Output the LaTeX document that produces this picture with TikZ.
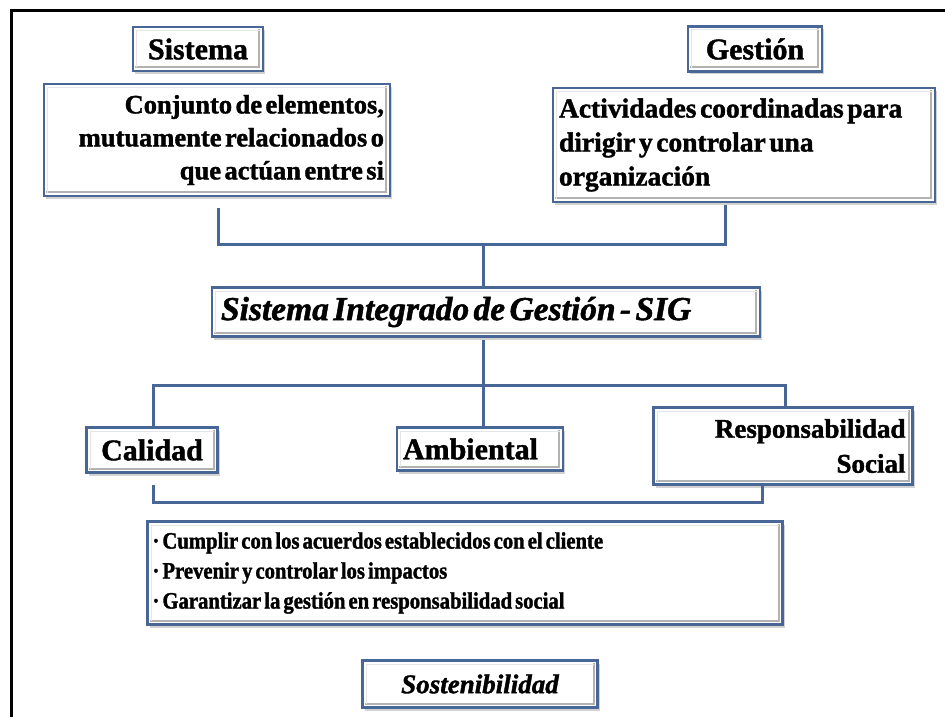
\documentclass[tikz,border=0pt]{standalone}
\usepackage{fontspec}
\setmainfont{Liberation Serif}[FakeBold=1.4]
\newfontfamily\bulfont{Liberation Serif}[FakeBold=1.4, FakeStretch=0.88]
\newcommand\tightsp{\spaceskip=0.13em\xspaceskip=0.13em\relax}
\usetikzlibrary{shadows}
\definecolor{bord}{RGB}{72,102,150}
\tikzset{
  bevel/.style={path picture={
    \draw[gray!60, line width=2pt] ([xshift=-4pt,yshift=-2pt]path picture bounding box.north east) -- ([xshift=-4pt,yshift=4pt]path picture bounding box.south east) -- ([xshift=2pt,yshift=4pt]path picture bounding box.south west);
    \draw[gray!20, line width=1pt] ([xshift=3.5pt,yshift=3.5pt]path picture bounding box.south west) -- ([xshift=3.5pt,yshift=-3.5pt]path picture bounding box.north west) -- ([xshift=-3.5pt,yshift=-3.5pt]path picture bounding box.north east);
  }},
  bx/.style={draw=bord, line width=2.5pt, fill=white, bevel,
    drop shadow={shadow xshift=2pt, shadow yshift=-3pt, fill=gray!70, opacity=0.5},
    inner sep=0pt, outer sep=0pt},
  conn/.style={draw=bord, line width=3pt},
}
\begin{document}
\begin{tikzpicture}[x=1pt,y=-1pt]
\useasboundingbox (0,0) rectangle (945,717);
\draw[line width=3pt] (11,717) -- (11,11) -- (945,11);

\node[bx, minimum width=130pt, minimum height=44pt, font=\fontsize{30}{34}\selectfont\bfseries] (sis) at (198,49) {Sistema};
\node[bx, minimum width=134pt, minimum height=45pt, font=\fontsize{30}{34}\selectfont\bfseries] (ges) at (755,49) {Gestión};
\node[bx, text width=334pt, minimum height=112pt, inner xsep=6pt, align=right, font=\fontsize{26.5}{33}\selectfont\bfseries] (conj) at (217,140) {\tightsp Conjunto de elementos,\\ mutuamente relacionados o\\ que actúan entre si};
\node[bx, text width=370pt, minimum height=114pt, inner xsep=6pt, align=left, font=\fontsize{27.5}{34}\selectfont\bfseries] (act) at (744,145) {\tightsp Actividades coordinadas para\\ dirigir y controlar una\\ organización};

\node[bx, text width=530pt, minimum height=49pt, inner xsep=9pt, align=left, font=\fontsize{33.5}{34}\selectfont\bfseries\itshape] (sig) at (486,312) {\tightsp Sistema Integrado de Gestión - SIG};

\node[bx, minimum width=131pt, minimum height=45pt, font=\fontsize{30}{34}\selectfont\bfseries] (cal) at (152,450) {Calidad};
\node[bx, text width=154pt, minimum height=43pt, inner xsep=6pt, align=left, font=\fontsize{30}{34}\selectfont\bfseries] (amb) at (480,449) {Ambiental};
\node[bx, text width=245pt, minimum height=77pt, inner xsep=7pt, align=right, font=\fontsize{27}{35}\selectfont\bfseries] (resp) at (783,446) {Responsabilidad\\ Social};

\node[bx, text width=625pt, minimum height=103pt, inner xsep=5pt, align=left, font=\bulfont\fontsize{23.5}{30}\selectfont\bfseries] (bul) at (465,573) {\tightsp · Cumplir con los acuerdos establecidos con el cliente\\ · Prevenir y controlar los impactos\\ · Garantizar la gestión en responsabilidad social};

\node[bx, minimum width=235pt, minimum height=47pt, font=\fontsize{27}{30}\selectfont\bfseries\itshape] (sos) at (480,684) {Sostenibilidad};

% connectors top
\coordinate (cb) at (218,208);
\coordinate (ca) at (725,205);
\coordinate (jl) at (218,244);
\coordinate (jr) at (725,244);
\coordinate (jm) at (483,244);
\draw[conn] (cb) -- (jl) -- (jr) -- (ca);
\draw[conn] (jm) -- (jm |- sig.north);

% below SIG
\coordinate (jm2) at (483,340);
\coordinate (h1) at (483,385);
\draw[conn] (jm2) -- (jm2 |- amb.north);
\draw[conn] (cal.north -| 153,0) |- (h1) -| (resp.north -| 785,0);

% bottom bracket
\coordinate (cbl) at (153,485);
\coordinate (hb) at (483,502);
\coordinate (cbr) at (762,485);
\draw[conn] (cbl) |- (hb) -| (cbr);
\end{tikzpicture}
\end{document}
